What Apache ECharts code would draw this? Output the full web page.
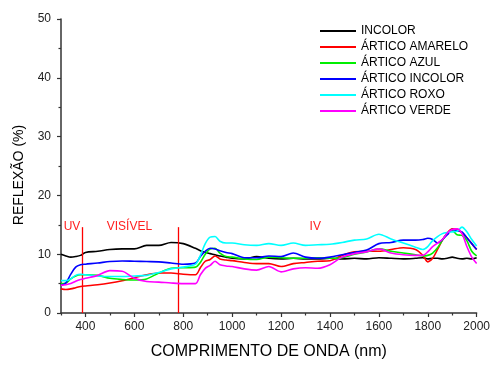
<!DOCTYPE html>
<html>
<head>
<meta charset="utf-8">
<script src="https://cdn.jsdelivr.net/npm/echarts@6/dist/echarts.min.js"></script>
<style>
html,body{margin:0;padding:0;background:#fff;}
#chart{width:493px;height:365px;}
</style>
</head>
<body>
<div id="chart"></div>
<script>
// Wavelength grid (nm)
var wavelengths = [300,320,340,360,380,400,450,500,550,600,650,700,750,800,850,870,890,910,930,950,975,1000,1050,1100,1150,1200,1250,1300,1350,1400,1450,1500,1550,1600,1650,1700,1750,1780,1800,1820,1840,1860,1880,1900,1920,1940,1960,1980,2000];

var incolor = [10.0,9.7,9.5,9.6,9.8,10.3,10.5,10.8,10.9,10.9,11.5,11.5,12.0,11.8,11.0,10.6,10.3,10.1,9.9,9.7,9.5,9.3,9.2,9.6,9.3,9.2,9.3,9.2,9.2,9.3,9.2,9.3,9.2,9.4,9.3,9.2,9.3,9.4,9.2,9.3,9.3,9.2,9.3,9.5,9.3,9.2,9.3,9.2,9.4];
var articoAmarelo = [4.1,4.0,4.1,4.3,4.5,4.6,4.8,5.1,5.5,6.0,6.5,6.8,6.8,6.6,6.5,7.7,8.8,9.1,9.7,9.2,9.0,8.9,8.6,8.4,8.4,7.9,8.4,8.6,8.8,8.9,9.8,10.4,10.5,10.5,10.8,11.1,10.8,9.8,8.7,9.3,10.8,12.4,13.6,14.3,14.2,13.6,12.8,11.8,10.8];
var articoAzul = [5.0,5.1,5.8,6.3,6.5,6.5,6.4,5.9,5.7,5.6,5.8,6.8,7.6,7.7,7.8,8.6,10.0,10.9,11.0,10.2,9.6,9.5,9.2,9.1,9.5,9.4,9.3,9.3,9.4,9.3,9.4,10.0,10.4,10.9,10.5,10.2,9.9,9.7,9.8,10.2,11.1,12.4,13.6,14.0,13.3,13.2,12.3,10.5,9.7];
var articoIncolor = [4.7,5.1,6.6,7.8,8.2,8.3,8.5,8.75,8.85,8.8,8.75,8.7,8.5,8.3,8.5,9.6,10.5,11.0,10.9,10.6,10.3,10.1,9.4,9.4,9.7,9.6,10.2,9.5,9.3,9.5,9.9,10.3,10.7,11.8,12.0,12.4,12.4,12.5,12.7,12.5,11.9,12.5,13.3,14.2,14.0,13.8,12.8,11.8,10.8];
var articoRoxo = [5.5,5.5,5.8,6.4,6.6,6.5,6.3,6.2,6.2,6.3,6.4,6.9,7.5,7.8,8.3,9.8,11.8,12.9,13.0,12.2,11.9,11.9,11.6,11.5,11.8,11.5,11.9,11.5,11.6,11.7,12.0,12.4,12.6,13.4,12.6,11.9,11.2,10.8,11.3,12.3,13.0,13.5,13.7,13.8,13.9,14.6,13.8,12.5,11.4];
var articoVerde = [4.7,4.8,5.0,5.4,5.7,5.9,6.4,7.2,7.1,5.9,5.35,5.25,5.1,5.0,5.0,6.5,7.6,8.1,8.8,8.2,8.0,7.9,7.5,7.3,7.9,7.0,7.5,7.7,7.6,8.2,9.5,10.1,10.4,10.9,10.2,9.9,9.8,9.8,10.4,11.3,11.9,12.5,13.6,14.2,14.3,13.5,11.3,9.5,8.4];

var seriesNames = ['INCOLOR','ÁRTICO AMARELO','ÁRTICO AZUL','ÁRTICO INCOLOR','ÁRTICO ROXO','ÁRTICO VERDE'];
var seriesColors = ['#000000','#ff0000','#00ee00','#0000ff','#00ffff','#ff00ff'];
var seriesValues = [incolor, articoAmarelo, articoAzul, articoIncolor, articoRoxo, articoVerde];

var xMajorTicks = [400,600,800,1000,1200,1400,1600,1800,2000];
var xMinorTicks = [300,500,700,900,1100,1300,1500,1700,1900];

// Region boundaries and labels
var regionLines = [385, 780];
var regionLineTop = 14.6;
var regionLabels = [
  {name:'UV', x:345, y:14.6},
  {name:'VISÍVEL', x:580, y:14.6},
  {name:'IV', x:1340, y:14.6}
];

var FONT = 'Liberation Sans, Arial, sans-serif';

function pairs(vals){
  return wavelengths.map(function(w,i){return [w, vals[i]];});
}

var series = seriesNames.map(function(n,i){
  return {
    name: n, type:'line', data: pairs(seriesValues[i]),
    showSymbol:false, smooth:0.3,
    lineStyle:{color:seriesColors[i], width:1.6},
    itemStyle:{color:seriesColors[i]},
    xAxisIndex:0, yAxisIndex:0, z:2+i
  };
});

series.push({
  name:'regions', type:'line', data:[], silent:true, z:20,
  markLine:{
    silent:true, symbol:['none','none'], animation:false,
    label:{show:false},
    lineStyle:{color:'#ff0000', width:1.3, type:'solid'},
    data: regionLines.map(function(x){return [{coord:[x,0]},{coord:[x,regionLineTop]}];})
  },
  markPoint:{
    silent:true, animation:false,
    symbol:'circle', symbolSize:1, itemStyle:{color:'rgba(0,0,0,0)'},
    label:{show:true, position:'inside', formatter:'{b}', color:'#ff2020', fontSize:12, fontFamily:FONT},
    data: regionLabels.map(function(r){return {name:r.name, coord:[r.x, r.y]};})
  }
});

var chart = echarts.init(document.getElementById('chart'), null, {renderer:'canvas'});
chart.setOption({
  animation:false,
  backgroundColor:'#ffffff',
  textStyle:{fontFamily:FONT},
  grid:{left:61, right:13.5, top:19, bottom:47, containLabel:false},
  legend:{
    data: seriesNames, orient:'vertical', left:315, top:18,
    icon:'rect', itemWidth:36, itemHeight:2, itemGap:0,
    textStyle:{fontSize:12, color:'#000', fontFamily:FONT, lineHeight:16},
    selectedMode:false
  },
  xAxis:[{
    type:'value', min:300, max:2000, interval:100,
    name:'COMPRIMENTO DE ONDA (nm)', nameLocation:'middle', nameGap:31,
    nameTextStyle:{fontSize:16, color:'#000', fontFamily:FONT},
    axisLine:{show:true, onZero:false, lineStyle:{color:'#333', width:1.5}},
    axisTick:{show:true, inside:false, length:4, lineStyle:{color:'#333', width:1.2}, customValues:xMajorTicks},
    axisLabel:{show:true, margin:8, fontSize:12, color:'#222', fontFamily:FONT, customValues:xMajorTicks,
      formatter:function(v){return String(v);}},
    splitLine:{show:false}
  },{
    type:'value', min:300, max:2000, interval:100, position:'bottom',
    axisLine:{show:false},
    axisTick:{show:true, inside:false, length:2.5, lineStyle:{color:'#333', width:1.2}, customValues:xMinorTicks},
    axisLabel:{show:false},
    splitLine:{show:false}
  }],
  yAxis:[{
    type:'value', min:0, max:50, interval:10,
    name:'REFLEXÃO (%)', nameLocation:'middle', nameGap:35, nameRotate:90,
    nameTextStyle:{fontSize:14, color:'#000', fontFamily:FONT, padding:[0,18,0,0]},
    axisLine:{show:true, onZero:false, lineStyle:{color:'#333', width:1.5}},
    axisTick:{show:true, inside:false, length:4, lineStyle:{color:'#333', width:1.2}},
    minorTick:{show:true, splitNumber:2, length:2.5, lineStyle:{color:'#333', width:1.2}},
    axisLabel:{show:true, margin:10, fontSize:12, color:'#222', fontFamily:FONT,
      formatter:function(v){return String(v);}},
    splitLine:{show:false}
  }],
  series: series
});
</script>
</body>
</html>
